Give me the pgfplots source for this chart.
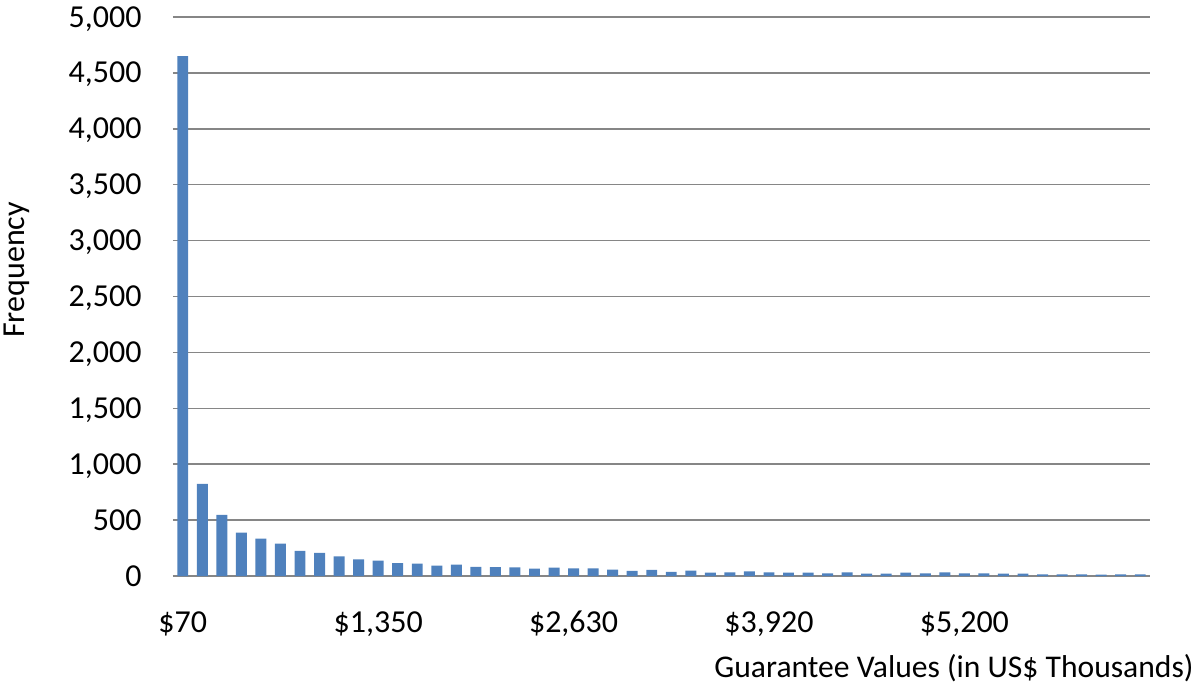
\documentclass[border=0pt]{standalone}
\usepackage{fontspec}
\setmainfont{Carlito}
\usepackage{pgfplots}
\pgfplotsset{compat=1.18}
\definecolor{barblue}{HTML}{4F81BD}
\definecolor{gridgray}{HTML}{868686}
\begin{document}
\begin{tikzpicture}[font=\fontsize{16}{19}\selectfont]
\path[use as bounding box] (-86.5pt,-54.5pt) rectangle (512.5pt,288pt);
\begin{axis}[
  at={(0,0)}, anchor=south west,
  scale only axis,
  width=488.5pt, height=279.5pt,
  xmin=-0.5, xmax=49.5,
  ymin=0, ymax=5000,
  axis x line*=bottom, axis y line*=left,
  x axis line style={-, draw=gridgray, line width=1pt},
  y axis line style={draw=none},
  major tick length=0pt,
  tick style={draw=none},
  ymajorgrids,
  grid style={gridgray, line width=0.75pt},
  xtick={0,10,20,30,40},
  xticklabels={\$70,{\$1,350},{\$2,630},{\$3,920},{\$5,200}},
  ytick={0,500,1000,1500,2000,2500,3000,3500,4000,4500,5000},
  yticklabels={0,500,{1,000},{1,500},{2,000},{2,500},{3,000},{3,500},{4,000},{4,500},{5,000}},
  xticklabel style={anchor=base, inner sep=0pt, yshift=-28pt},
  yticklabel style={anchor=base east, inner sep=0pt, xshift=-15.5pt, yshift=-5pt},
  clip=false,
]
\addplot[ybar, bar width=0.56, fill=barblue, draw=none] coordinates {
(0,4650) (1,823) (2,546) (3,388) (4,334) (5,290) (6,224) (7,206) (8,176) (9,149)
(10,138) (11,116) (12,111) (13,93) (14,102) (15,81) (16,80) (17,78) (18,66) (19,75)
(20,69) (21,68) (22,57) (23,45) (24,54) (25,36) (26,48) (27,30) (28,33) (29,42)
(30,33) (31,30) (32,31) (33,24) (34,33) (35,21) (36,21) (37,30) (38,24) (39,33)
(40,24) (41,24) (42,21) (43,21) (44,15) (45,15) (46,15) (47,12) (48,15) (49,15)
};
\end{axis}
\node[anchor=base east, inner sep=0pt, font=\fontsize{15.8}{19}\selectfont] at (510.5pt,-50.5pt) {Guarantee Values (in US\$ Thousands)};
\node[anchor=base, rotate=90, inner sep=0pt] at (-74pt,153pt) {Frequency};
\end{tikzpicture}
\end{document}
